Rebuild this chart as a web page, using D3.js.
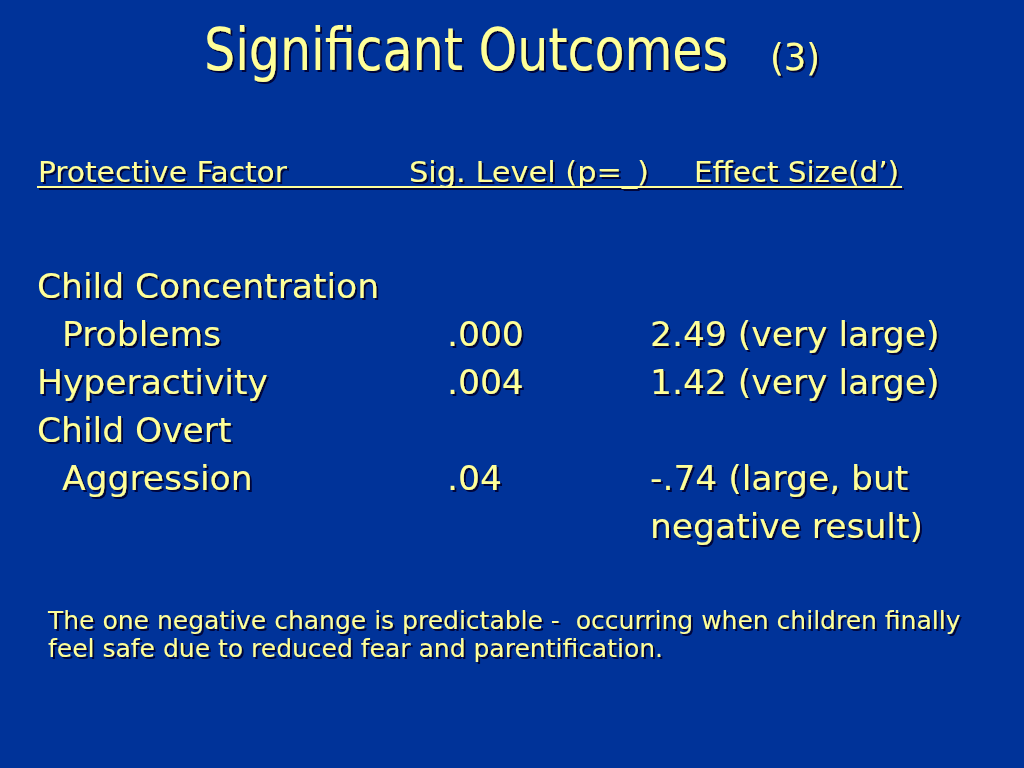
<!DOCTYPE html>
<html>
<head>
<meta charset="utf-8">
<script src="https://cdn.jsdelivr.net/npm/d3@7"></script>
<style>
  html, body { margin: 0; padding: 0; background: #003399; }
  svg { display: block; }
  text { white-space: pre; }
</style>
</head>
<body>
<svg id="slide" width="1024" height="768"></svg>
<script>
// ---- data ----
const titleMain = "Significant Outcomes";
const titleSub = "(3)";
const headers = ["Protective Factor", "Sig. Level (p=_)", "Effect Size(d\u2019)"];
const factorLines = ["Child Concentration", "Problems", "Hyperactivity", "Child Overt", "Aggression", ""];
const factorIndent = [false, true, false, false, true, false];
const sigLevels = ["", ".000", ".004", "", ".04", ""];
const effectSizes = ["", "2.49 (very large)", "1.42 (very large)", "", "-.74 (large, but", "negative result)"];
const noteLines = [
  "The one negative change is predictable -  occurring when children finally",
  "feel safe due to reduced fear and parentification."
];

// ---- drawing ----
const W = 1024, H = 768;
const fg = "#FFFF99";
const svg = d3.select("#slide");
svg.append("rect").attr("width", W).attr("height", H).attr("fill", "#003399");

const defs = svg.append("defs");
const f = defs.append("filter").attr("id", "shadow").attr("x", "-5%").attr("y", "-20%").attr("width", "110%").attr("height", "140%");
f.append("feDropShadow").attr("dx", 2).attr("dy", 2).attr("stdDeviation", 0.6)
  .attr("flood-color", "#000033").attr("flood-opacity", 0.9);

const fontCond = "'DejaVu Sans Condensed', 'DejaVu Sans', sans-serif";
const fontBody = "'DejaVu Sans', sans-serif";
const g = svg.append("g").attr("filter", "url(#shadow)").attr("fill", fg);

function put(text, x, y, size, family, width) {
  const t = g.append("text").attr("x", x).attr("y", y).attr("font-size", size)
    .style("font-family", family).text(text);
  if (width) t.attr("textLength", width).attr("lengthAdjust", "spacingAndGlyphs");
  return t;
}

// title
put(titleMain, 204, 70, 58, fontCond, 524);
put(titleSub, 770, 70, 38, fontCond, 50);

// header
const headerX = d3.scaleOrdinal().domain(headers).range([38, 409, 694]);
const headerW = d3.scaleOrdinal().domain(headers).range([249, 240, 205]);
headers.forEach(h => put(h, headerX(h), 182, 28, fontCond, headerW(h)));
g.append("rect").attr("x", 37).attr("y", 186).attr("width", 865).attr("height", 2).attr("fill", fg);

// rows
const rowY = d3.scalePoint().domain(d3.range(factorLines.length)).range([298, 538]);
const colX = { factor: 37, indent: 62, sig: 447, effect: 650 };
const sizeBody = 34.5;
factorLines.forEach((s, i) => {
  if (s) put(s, factorIndent[i] ? colX.indent : colX.factor, rowY(i), sizeBody, fontBody);
});
sigLevels.forEach((s, i) => { if (s) put(s, colX.sig, rowY(i), sizeBody, fontBody); });
effectSizes.forEach((s, i) => { if (s) put(s, colX.effect, rowY(i), sizeBody, fontBody); });

// note
const noteY = d3.scalePoint().domain(d3.range(noteLines.length)).range([629, 657]);
noteLines.forEach((s, i) => put(s, 48, noteY(i), 25, fontBody));
</script>
</body>
</html>
